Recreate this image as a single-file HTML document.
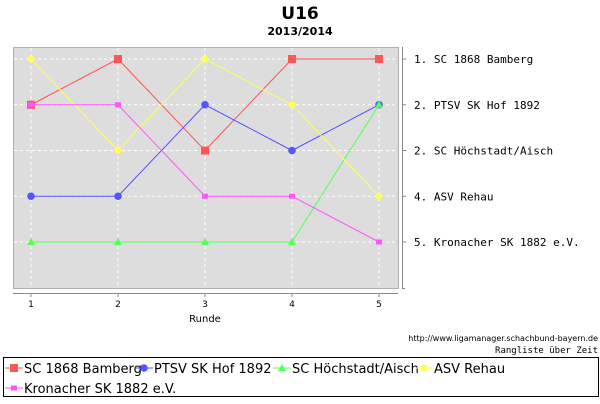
<!DOCTYPE html>
<html><head><meta charset="utf-8"><style>
body{margin:0;background:#fff;width:600px;height:400px;overflow:hidden;font-family:"DejaVu Sans","Liberation Sans",sans-serif}
</style></head><body>
<svg width="600" height="400" xmlns="http://www.w3.org/2000/svg">
<text x="300" y="19" text-anchor="middle" font-size="17" font-weight="bold" font-family="DejaVu Sans, sans-serif">U16</text>
<text x="300" y="35" text-anchor="middle" font-size="11" font-weight="bold" font-family="DejaVu Sans, sans-serif">2013/2014</text>
<rect x="13.5" y="47.5" width="385" height="241" fill="#dddddd" stroke="#b0b0b0"/>
<g id="grid"></g>
<line x1="13" y1="293.5" x2="398" y2="293.5" stroke="#888"/>
<line x1="402.5" y1="47" x2="402.5" y2="288" stroke="#888"/>
<line x1="402" y1="288.5" x2="405" y2="288.5" stroke="#888"/>
<g id="xt"></g>
<text x="205" y="322" text-anchor="middle" font-size="10">Runde</text>
<g id="series"></g>
<g id="yl"></g>
<text x="598" y="341" text-anchor="end" font-size="8">http://www.ligamanager.schachbund-bayern.de</text>
<text x="598" y="353" text-anchor="end" font-size="9" font-family="DejaVu Sans Mono, monospace">Rangliste über Zeit</text>
<rect x="3.5" y="357.5" width="595" height="39" fill="#fff" stroke="#000"/>
<g id="legend"></g>
</svg>
<script>
const rounds=[1,2,3,4,5];
const teams=["SC 1868 Bamberg","PTSV SK Hof 1892","SC Höchstadt/Aisch","ASV Rehau","Kronacher SK 1882 e.V."];
const bamberg=[2,1,3,1,1];
const hof=[4,4,2,3,2];
const hoechstadt=[5,5,5,5,2];
const rehau=[1,3,1,2,4];
const kronach=[2,2,4,4,5];
const finalLabels=["1. SC 1868 Bamberg","2. PTSV SK Hof 1892","2. SC Höchstadt/Aisch","4. ASV Rehau","5. Kronacher SK 1882 e.V."];
const NS="http://www.w3.org/2000/svg";
const xs=r=>31+(r-1)*87;
const ys=k=>59+(k-1)*45.75;
function mk(tag,at,p){const e=document.createElementNS(NS,tag);for(const k in at)e.setAttribute(k,at[k]);p.appendChild(e);return e;}
const grid=document.getElementById('grid'),xt=document.getElementById('xt');
rounds.forEach(r=>{
 const g=mk('line',{x1:xs(r),x2:xs(r),y1:48,y2:288,stroke:'#fff','stroke-dasharray':'3,3'},grid);
 
 
 mk('line',{x1:xs(r),x2:xs(r),y1:294,y2:297,stroke:'#888'},xt);
 const t=mk('text',{x:xs(r),y:307,'text-anchor':'middle','font-size':9},xt);t.textContent=r;
 
 
});
[1,2,3,4,5].forEach(k=>{
 const g=mk('line',{x1:14,x2:398,y1:ys(k),y2:ys(k),stroke:'#fff','stroke-dasharray':'3,3'},grid);
 
 
});
const yl=document.getElementById('yl');
finalLabels.forEach((l,i)=>{
 mk('line',{x1:402,x2:406,y1:ys(i+1),y2:ys(i+1),stroke:'#888'},yl);
 const t=mk('text',{x:414,y:ys(i+1)+4,'font-size':11,'font-family':'DejaVu Sans Mono, monospace'},yl);t.textContent=l;
 
 
});
const series=[
 {d:bamberg,c:'#ff5555',m:'sq'},
 {d:hof,c:'#5555ff',m:'ci'},
 {d:hoechstadt,c:'#55ff55',m:'tr'},
 {d:rehau,c:'#ffff55',m:'ci2'},
 {d:kronach,c:'#ff55ff',m:'sq2'}];
function marker(m,x,y,c,p){
 if(m==='sq')return mk('rect',{x:x-4,y:y-4,width:8,height:8,fill:c},p);
 if(m==='sq2')return mk('rect',{x:x-3,y:y-2.5,width:6,height:5,fill:c},p);
 if(m==='ci')return mk('circle',{cx:x,cy:y,r:3.8,fill:c},p);
 if(m==='ci2')return mk('circle',{cx:x,cy:y,r:3.5,fill:c},p);
 return mk('polygon',{points:`${x},${y-4} ${x+4},${y+3} ${x-4},${y+3}`,fill:c},p);
}
const sg=document.getElementById('series');
series.forEach((s,i)=>{
 const g=mk('g',{},sg);
 
 
 const l=mk('polyline',{points:s.d.map((v,j)=>xs(rounds[j])+','+ys(v)).join(' '),fill:'none',stroke:s.c,'stroke-width':1},g);
 
 
 s.d.forEach((v,j)=>{const p=marker(s.m,xs(rounds[j]),ys(v),s.c,g);
  
  });
});
const lg=document.getElementById('legend');
const pos=[[8,368],[138,368],[276,368],[418,368],[8,388]];
teams.forEach((t,i)=>{
 const [x,y]=pos[i];const g=mk('g',{},lg);
 
 
 mk('line',{x1:x-3,x2:x+15,y1:y,y2:y,stroke:series[i].c},g);
 marker(series[i].m,x+6,y,series[i].c,g);
 const tx=mk('text',{x:x+16,y:y+5,'font-size':13},g);tx.textContent=t;
});
</script>
</body></html>
